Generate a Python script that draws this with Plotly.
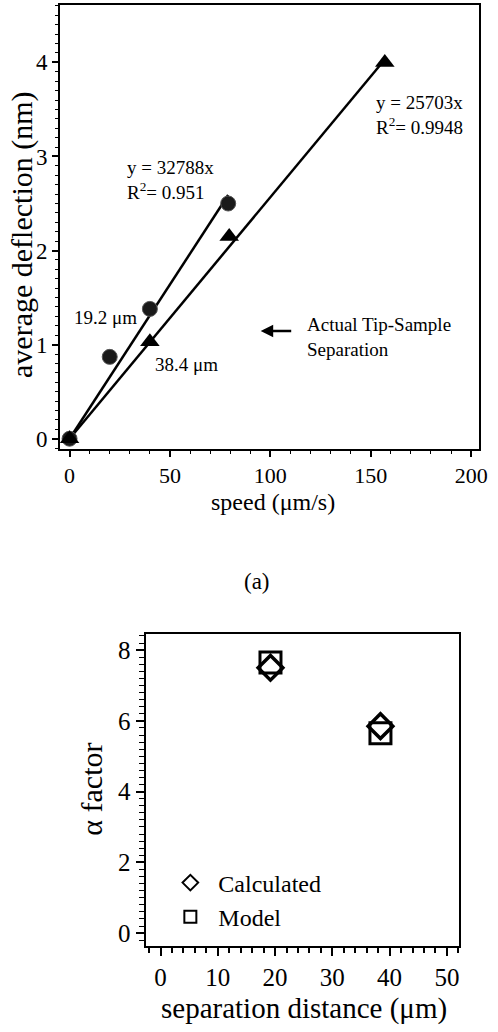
import plotly.graph_objects as go

W, H = 498, 1032

# ---- data (top chart) ----
speed_192 = [0, 20, 40, 79]
defl_192 = [0, 0.87, 1.38, 2.50]
speed_384 = [0, 40, 79.5, 157]
defl_384 = [0, 1.03, 2.15, 4.0]
fit192_x = [0, 79]
fit192_y = [0, 2.59]
fit384_x = [0, 157]
fit384_y = [0, 4.03]

# ---- data (bottom chart) ----
sep_dist = [19.2, 38.4]
alpha_calc = [7.5, 5.85]
alpha_model = [7.65, 5.65]

FONT = "Liberation Serif"

def px(x):
    return x / W

def py(y):
    return 1 - y / H

fig = go.Figure()

# fit lines
fig.add_trace(go.Scatter(x=fit192_x, y=fit192_y, mode="lines",
                         line=dict(color="black", width=2.5), showlegend=False,
                         xaxis="x", yaxis="y"))
fig.add_trace(go.Scatter(x=fit384_x, y=fit384_y, mode="lines",
                         line=dict(color="black", width=2.5), showlegend=False,
                         xaxis="x", yaxis="y"))
fig.add_trace(go.Scatter(x=speed_192, y=defl_192, mode="markers",
                         marker=dict(symbol="circle", size=15, color="#1a1a1a",
                                     line=dict(color="#555", width=1)),
                         showlegend=False, xaxis="x", yaxis="y"))
fig.add_trace(go.Scatter(x=speed_384, y=defl_384, mode="markers",
                         marker=dict(symbol="triangle-up", size=17, color="black"),
                         showlegend=False, xaxis="x", yaxis="y"))

# bottom chart
fig.add_trace(go.Scatter(x=sep_dist, y=alpha_model, mode="markers", name="Model",
                         marker=dict(symbol="square-open", size=21, color="black",
                                     line=dict(color="black", width=3)),
                         xaxis="x2", yaxis="y2"))
fig.add_trace(go.Scatter(x=sep_dist, y=alpha_calc, mode="markers", name="Calculated",
                         marker=dict(symbol="diamond-open", size=19, color="black",
                                     line=dict(color="black", width=3.5)),
                         xaxis="x2", yaxis="y2"))

axis_common = dict(showline=True, linecolor="black", linewidth=2, mirror=True,
                   showgrid=False, zeroline=False, ticks="outside",
                   tickcolor="black")

fig.update_layout(
    width=W, height=H,
    margin=dict(l=0, r=0, t=0, b=0),
    paper_bgcolor="white", plot_bgcolor="white",
    font=dict(family=FONT, color="black"),
    xaxis=dict(domain=[px(61), px(487)], range=[-4.75, 204], anchor="y",
               tickvals=[0, 50, 100, 150, 200], ticklen=6, tickwidth=1.5,
               minor=dict(ticks="outside", dtick=10, tick0=0, ticklen=3,
                          tickcolor="black", tickwidth=1.2),
               tickfont=dict(size=22, family=FONT), **axis_common),
    yaxis=dict(domain=[py(450), py(5)], range=[-0.106, 4.61], anchor="x",
               tickvals=[0, 1, 2, 3, 4], ticklen=6, tickwidth=1.5,
               minor=dict(ticks="outside", dtick=0.1, tick0=0, ticklen=3,
                          tickcolor="black", tickwidth=1.2),
               tickfont=dict(size=23, family=FONT), **axis_common),
    xaxis2=dict(domain=[px(148), px(467)], range=[-2.6, 52.2], anchor="y2",
                tickvals=[0, 10, 20, 30, 40, 50], ticklen=8, tickwidth=1.8,
                minor=dict(ticks="outside", dtick=2, tick0=0, ticklen=5,
                           tickcolor="black", tickwidth=1.5),
                tickfont=dict(size=25, family=FONT), **axis_common),
    yaxis2=dict(domain=[py(949), py(636)], range=[-0.37, 8.45], anchor="x2",
                tickvals=[0, 2, 4, 6, 8], ticklen=8, tickwidth=1.8,
                minor=dict(ticks="outside", dtick=0.2, tick0=0, ticklen=5,
                           tickcolor="black", tickwidth=1.2),
                tickfont=dict(size=25, family=FONT), **axis_common),
    legend=dict(x=px(165), y=py(863), xanchor="left", yanchor="top",
                bgcolor="rgba(0,0,0,0)", font=dict(size=24, family=FONT),
                itemsizing="constant", traceorder="reversed",
                tracegroupgap=0, itemwidth=46),
    showlegend=True,
)

ann = []
# axis titles
ann.append(dict(text="speed (μm/s)", x=px(277.5), y=py(503), xref="paper", yref="paper",
                xanchor="center", yanchor="middle", showarrow=False, font=dict(size=24)))
ann.append(dict(text="average deflection (nm)", x=px(22.5), y=py(235.5), xref="paper",
                yref="paper", xanchor="center", yanchor="middle", showarrow=False,
                textangle=-90, font=dict(size=30)))
ann.append(dict(text="(a)", x=px(261.7), y=py(583), xref="paper", yref="paper",
                xanchor="center", yanchor="middle", showarrow=False, font=dict(size=23)))
ann.append(dict(text="α factor", x=px(93), y=py(791.5), xref="paper", yref="paper",
                xanchor="center", yanchor="middle", showarrow=False, textangle=-90,
                font=dict(size=30)))
ann.append(dict(text="separation distance (μm)", x=px(309), y=py(1011), xref="paper",
                yref="paper", xanchor="center", yanchor="middle", showarrow=False,
                font=dict(size=29)))
# in-plot labels (top)
ann.append(dict(text="y = 32788x<br>R<sup>2</sup>= 0.951", x=27.6, y=2.75, xref="x", yref="y",
                xanchor="left", yanchor="middle", align="left", showarrow=False,
                font=dict(size=19)))
ann.append(dict(text="y = 25703x<br>R<sup>2</sup>= 0.9948", x=151.6, y=3.44, xref="x", yref="y",
                xanchor="left", yanchor="middle", align="left", showarrow=False,
                font=dict(size=19)))
ann.append(dict(text="19.2 μm", x=1.1, y=1.29, xref="x", yref="y", xanchor="left",
                yanchor="middle", showarrow=False, font=dict(size=19)))
ann.append(dict(text="38.4 μm", x=41.8, y=0.785, xref="x", yref="y", xanchor="left",
                yanchor="middle", showarrow=False, font=dict(size=19)))
ann.append(dict(text="Actual Tip-Sample<br>Separation", x=117.3, y=1.076, xref="x", yref="y",
                xanchor="left", yanchor="middle", align="left", showarrow=False,
                font=dict(size=19)))
ann.append(dict(text="", x=95.2, y=1.145, xref="x", yref="y", ax=32, ay=0,
                showarrow=True, arrowhead=2, arrowsize=1, arrowwidth=2.5,
                arrowcolor="black"))
fig.update_layout(annotations=ann)

fig.write_html("out.html")
